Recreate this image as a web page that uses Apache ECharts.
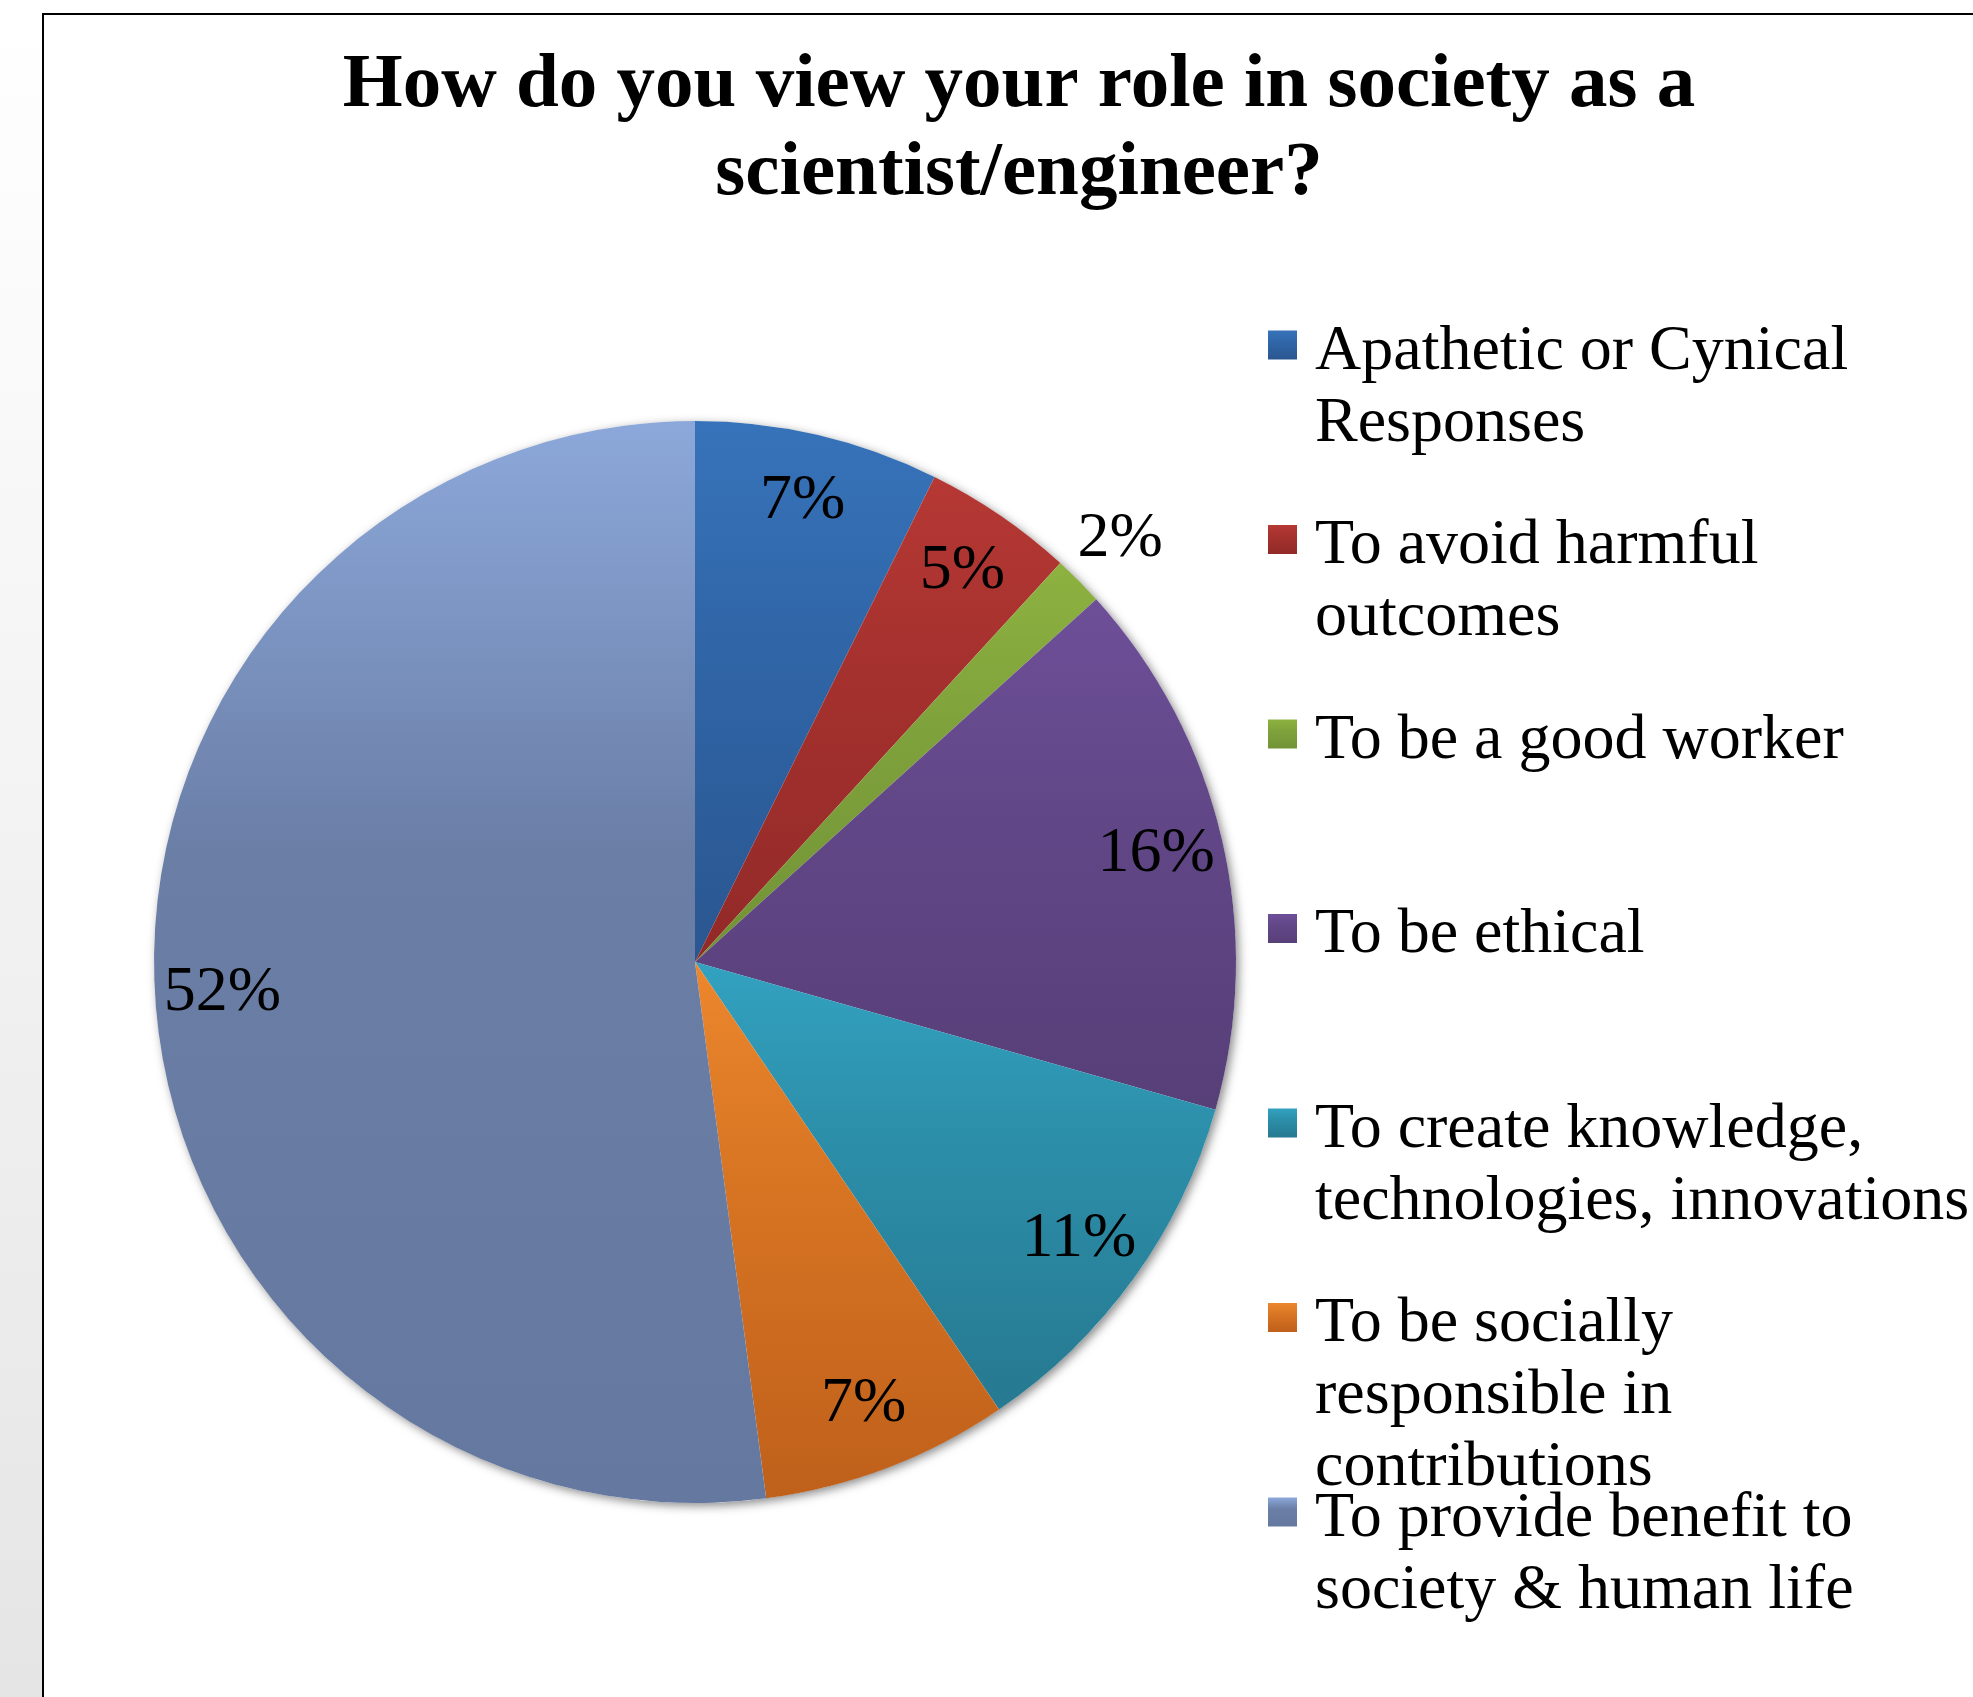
<!DOCTYPE html>
<html>
<head>
<meta charset="utf-8">
<title>How do you view your role in society as a scientist/engineer?</title>
<script src="https://cdn.jsdelivr.net/npm/echarts@6/dist/echarts.min.js"></script>
<style>
html, body { margin: 0; padding: 0; background: #fff; }
#chart { width: 1973px; height: 1697px; }
</style>
</head>
<body>
<div id="chart"></div>
<script>
// legend names, line breaks as in the picture
var categories = [
  'Apathetic or Cynical\nResponses',
  'To avoid harmful\noutcomes',
  'To be a good worker',
  'To be ethical',
  'To create knowledge,\ntechnologies, innovations',
  'To be socially\nresponsible in\ncontributions',
  'To provide benefit to\nsociety & human life'
];
// share of answers (%)
var shares = [7.3, 4.5, 1.5, 16.1, 11.1, 7.4, 52.1];

// office-like gradient: top / middle / bottom of each slice
var colorTop    = ['#3773ba', '#b63834', '#8db240', '#6d4f98', '#32a2c0', '#ec872d', '#8ca8da'];
var colorMid    = ['#3066a8', '#a5312e', '#80a23c', '#624788', '#2c8ea9', '#d87523', '#6a7ea6'];
var colorBottom = ['#2a5690', '#922a28', '#729336', '#573f78', '#267990', '#bf601b', '#6478a0'];

var font = 'Liberation Serif';
var pieCenter = [695, 962];
var pieRadius = 541;

function sliceColor(i) {
  return {
    type: 'linear', x: 0, y: 0, x2: 0, y2: 1,
    colorStops: [
      { offset: 0, color: colorTop[i] },
      { offset: 0.4, color: colorMid[i] },
      { offset: 1, color: colorBottom[i] }
    ]
  };
}

var chart = echarts.init(document.getElementById('chart'));

// one legend per entry so the entries stay evenly spaced
var legendLineHeight = 72;
var legendFirstY = 345;
var legendStep = 194.5;
var textDrop = 14; // small spacer line on top, nudges the text below the marker centre
var legends = categories.map(function (name, i) {
  var lines = name.split('\n').length;
  var boxLines = 2 * lines - 1; // blank lines on top keep the marker on the first line
  return {
    data: [name],
    orient: 'vertical',
    left: 1268,
    top: legendFirstY + i * legendStep - (boxLines * legendLineHeight + textDrop) / 2,
    padding: 0,
    itemWidth: 29,
    itemHeight: 29,
    icon: 'rect',
    selectedMode: false,
    formatter: function (n) {
      return '{s| }\n' + new Array(lines).join('\n') + n;
    },
    textStyle: {
      fontFamily: font,
      fontSize: 64,
      lineHeight: legendLineHeight,
      color: '#000',
      padding: [0, 0, 0, 13],
      rich: {
        s: { fontSize: 8, lineHeight: textDrop }
      }
    }
  };
});

var labelStyle = {
  fontFamily: font,
  fontSize: 64,
  color: '#000'
};

chart.setOption({
  animation: false,
  backgroundColor: '#fff',
  title: {
    text: 'How do you view your role in society as a\nscientist/engineer?',
    left: 1019,
    top: 42,
    padding: 0,
    textAlign: 'center',
    textStyle: {
      fontFamily: font,
      fontWeight: 'bold',
      fontSize: 77,
      lineHeight: 88,
      color: '#000'
    }
  },
  legend: legends,
  graphic: [
    {
      type: 'rect', z: -10, silent: true,
      shape: { x: 0, y: 0, width: 42, height: 1697 },
      style: {
        fill: {
          type: 'linear', x: 0, y: 0, x2: 0, y2: 1,
          colorStops: [{ offset: 0, color: '#ffffff' }, { offset: 1, color: '#e5e5e5' }]
        }
      }
    },
    {
      type: 'line', silent: true,
      shape: { x1: 43, y1: 13, x2: 43, y2: 1697 },
      style: { stroke: '#000', lineWidth: 2 }
    },
    {
      type: 'line', silent: true,
      shape: { x1: 42, y1: 14, x2: 1973, y2: 14 },
      style: { stroke: '#000', lineWidth: 2 }
    }
  ],
  series: [
    {
      // soft shadow under the pie
      type: 'pie',
      silent: true,
      center: pieCenter,
      radius: pieRadius,
      label: { show: false },
      labelLine: { show: false },
      itemStyle: {
        color: '#fff',
        shadowBlur: 10,
        shadowColor: 'rgba(0,0,0,0.45)',
        shadowOffsetX: 3,
        shadowOffsetY: 3
      },
      data: [{ name: 'shadow', value: 1 }]
    },
    {
      type: 'pie',
      name: 'Role',
      silent: true,
      center: pieCenter,
      radius: pieRadius,
      startAngle: 90,
      clockwise: true,
      label: { show: false },
      labelLine: { show: false },
      itemStyle: { borderWidth: 0 },
      data: categories.map(function (name, i) {
        return { name: name, value: shares[i], itemStyle: { color: sliceColor(i) } };
      })
    },
    {
      // labels near the rim
      type: 'pie',
      silent: true,
      center: pieCenter,
      radius: [400, pieRadius],
      startAngle: 90,
      percentPrecision: 0,
      itemStyle: { color: 'rgba(0,0,0,0)', borderWidth: 0 },
      emphasis: { disabled: true },
      labelLine: { show: false },
      label: {
        show: true,
        position: 'inside',
        formatter: function (p) { return p.percent < 3 ? '' : p.percent + '%'; },
        fontFamily: labelStyle.fontFamily,
        fontSize: labelStyle.fontSize,
        color: labelStyle.color
      },
      data: categories.map(function (name, i) {
        return { name: name, value: shares[i] };
      })
    },
    {
      // small slices get their label just outside the pie
      type: 'pie',
      silent: true,
      center: pieCenter,
      radius: [pieRadius, 652],
      startAngle: 90,
      percentPrecision: 0,
      itemStyle: { color: 'rgba(0,0,0,0)', borderWidth: 0 },
      emphasis: { disabled: true },
      labelLine: { show: false },
      label: {
        show: true,
        position: 'inside',
        formatter: function (p) { return p.percent < 3 ? p.percent + '%' : ''; },
        fontFamily: labelStyle.fontFamily,
        fontSize: labelStyle.fontSize,
        color: labelStyle.color
      },
      data: categories.map(function (name, i) {
        return { name: name, value: shares[i] };
      })
    }
  ]
});
</script>
</body>
</html>
